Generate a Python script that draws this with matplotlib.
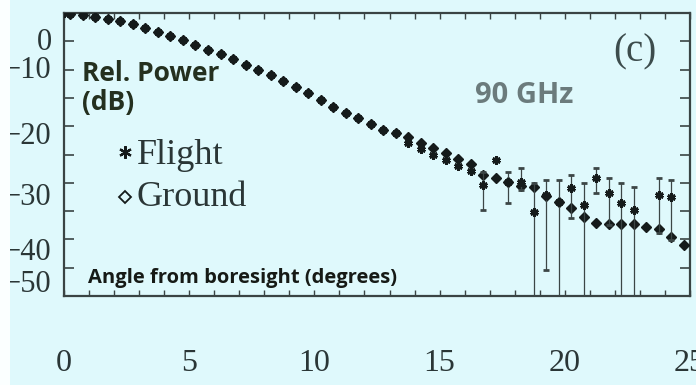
import matplotlib
matplotlib.use("Agg")
import matplotlib.pyplot as plt
from matplotlib.patches import Rectangle
from matplotlib.ticker import FixedLocator, MultipleLocator

# ground measurements (diamonds), angle in degrees, relative power in dB
ground_angle = [0.25, 0.75, 1.25, 1.75, 2.25, 2.75, 3.25, 3.75, 4.25, 4.75,
                5.25, 5.75, 6.25, 6.75, 7.25, 7.75, 8.25, 8.75, 9.25, 9.75,
                10.25, 10.75, 11.25, 11.75, 12.25, 12.75, 13.25, 13.75, 14.25, 14.75,
                15.25, 15.75, 16.25, 16.75, 17.25, 17.75, 18.25, 18.75, 19.25, 19.75,
                20.25, 20.75, 21.25, 21.75, 22.25, 22.75, 23.25, 23.75, 24.25, 24.75]
ground_db = [-0.1, -0.4, -0.7, -1.0, -1.4, -2.0, -2.7, -3.3, -4.0, -4.8,
             -5.7, -6.5, -7.3, -8.1, -9.1, -10.1, -11.0, -12.0, -13.0, -14.2,
             -15.4, -16.6, -17.6, -18.6, -19.6, -20.6, -21.2, -21.9, -22.9, -23.9,
             -24.8, -25.8, -26.6, -28.6, -29.2, -29.9, -30.6, -30.8, -32.4, -33.4,
             -34.5, -36.0, -37.1, -37.3, -37.3, -37.3, -37.8, -38.2, -39.6, -41.0]

# flight measurements along the main beam (no visible error bars)
flight_angle = [0.0, 0.25, 0.75, 1.25, 1.75, 2.25, 2.75, 3.25, 3.75, 4.25,
                4.75, 5.25, 5.75, 6.25, 6.75, 7.25, 7.75, 8.25, 8.75, 9.25,
                9.75, 10.25, 10.75, 11.25, 11.75, 12.25, 12.75, 13.25, 13.75, 14.25,
                14.75, 15.25, 15.75, 16.25, 17.25]
flight_db = [0.0, -0.1, -0.4, -0.7, -1.0, -1.4, -2.0, -2.7, -3.3, -4.0,
             -4.8, -5.7, -6.5, -7.3, -8.1, -9.1, -10.1, -11.0, -12.0, -13.0,
             -14.2, -15.4, -16.6, -17.6, -18.6, -19.6, -20.6, -21.2, -23.0, -24.1,
             -25.1, -26.0, -27.1, -27.9, -26.0]

# flight measurements with error bars (upper / lower bound in dB)
bar_angle = [16.75, 17.75, 18.25, 18.75, 19.25, 19.75, 20.25, 20.75,
             21.25, 21.75, 22.25, 22.75, 23.75, 24.25]
bar_db = [-30.4, -29.9, -29.8, -35.2, -32.2, -33.4, -30.9, -33.9,
          -29.2, -31.8, -33.6, -34.8, -32.2, -32.5]
bar_high = [-28.1, -28.1, -27.4, -30.0, -29.5, -29.5, -28.6, -30.0,
            -27.4, -29.2, -30.0, -30.7, -29.2, -29.5]
bar_low = [-34.8, -33.6, -31.3, -60.0, -45.4, -60.0, -36.2, -60.0,
           -31.8, -37.5, -60.0, -60.0, -38.9, -40.1]

x_ticks = [0, 5, 10, 15, 20, 25]
y_label_pos = [-4.6, -9.6, -21.2, -32.0, -41.7, -47.4]
y_label_txt = ["0", "\u221210", "\u221220", "\u221230", "\u221240", "\u221250"]

bg = "#dff9fc"
ink = "#151b1b"
serif = "Liberation Serif"
sans = "Open Sans"

fig = plt.figure(figsize=(6.96, 3.85), dpi=100, facecolor=bg)
fig.patches.append(Rectangle((0, 0), 10 / 696, 1, transform=fig.transFigure,
                             facecolor="#fbffff", edgecolor="none", zorder=0))
ax = fig.add_axes([64 / 696, 1 - 296 / 385, 626 / 696, 283 / 385])
ax.set_facecolor(bg)

ax.plot(ground_angle, ground_db, ls="none", marker="D", ms=5, color=ink, zorder=3)
ax.plot(flight_angle, flight_db, ls="none", marker=(6, 2, 0), ms=6, mew=2,
        color=ink, zorder=3)
err = [[v - lo for v, lo in zip(bar_db, bar_low)],
       [hi - v for v, hi in zip(bar_db, bar_high)]]
ax.errorbar(bar_angle, bar_db, yerr=err, ls="none", marker=(6, 2, 0), ms=6,
            mew=2, color=ink, ecolor="#3c4646", elinewidth=0.9, capsize=2,
            capthick=0.9, zorder=3)

ax.set_xlim(0, 25)
ax.set_ylim(-50, 0)
for s in ax.spines.values():
    s.set_color("#3a4444")
    s.set_linewidth(1.6)

ax.set_xticks(x_ticks)
ax.xaxis.set_minor_locator(MultipleLocator(1))
ax.tick_params(axis="x", which="both", direction="in", top=True, length=4,
               width=1, color="#3a4444", labelsize=23, pad=38, labelcolor="#2a3636")
ax.set_yticks(y_label_pos, y_label_txt)
ax.yaxis.set_minor_locator(FixedLocator([-5 * i for i in range(11)]))
ax.tick_params(axis="y", which="major", length=0, pad=9, labelsize=22,
               labelcolor="#2a3636")
ax.tick_params(axis="y", which="minor", direction="in", right=True, length=7,
               width=1.2, color="#3a4444")
for lab in ax.get_xticklabels() + ax.get_yticklabels():
    lab.set_family(serif)

def ax_pt(px, py):
    return (px - 64) / 626, (296 - py) / 283

ax.text(*ax_pt(82, 81), "Rel. Power", transform=ax.transAxes, family=sans,
        weight="bold", fontsize=19, color="#24301f", va="baseline")
ax.text(*ax_pt(82, 110), "(dB)", transform=ax.transAxes, family=sans,
        weight="bold", fontsize=19, color="#24301f", va="baseline")
ax.plot(*ax_pt(125, 152), transform=ax.transAxes, marker=(6, 2, 0), ms=9,
        mew=1.6, color=ink, clip_on=False)
ax.text(*ax_pt(137, 164), "Flight", transform=ax.transAxes, family=serif,
        fontsize=26, color="#2a3636", va="baseline")
ax.plot(*ax_pt(125, 197), transform=ax.transAxes, marker="D", ms=6.5, mew=1.3,
        mfc="none", color=ink, clip_on=False)
ax.text(*ax_pt(137, 206), "Ground", transform=ax.transAxes, family=serif,
        fontsize=26, color="#2a3636", va="baseline")
ax.text(*ax_pt(475, 103), "90 GHz", transform=ax.transAxes, family=sans,
        weight="bold", fontsize=21, color="#6b7b7c", va="baseline")
ax.text(*ax_pt(635, 52), "(c)", transform=ax.transAxes, family=serif,
        fontsize=28, color="#3c4c4c", ha="center", va="center")
ax.text(*ax_pt(88, 283), "Angle from boresight (degrees)", transform=ax.transAxes,
        family=sans, weight="bold", fontsize=14.5, color="#161a16", va="baseline")

fig.savefig("out.png", dpi=100, facecolor=bg)
